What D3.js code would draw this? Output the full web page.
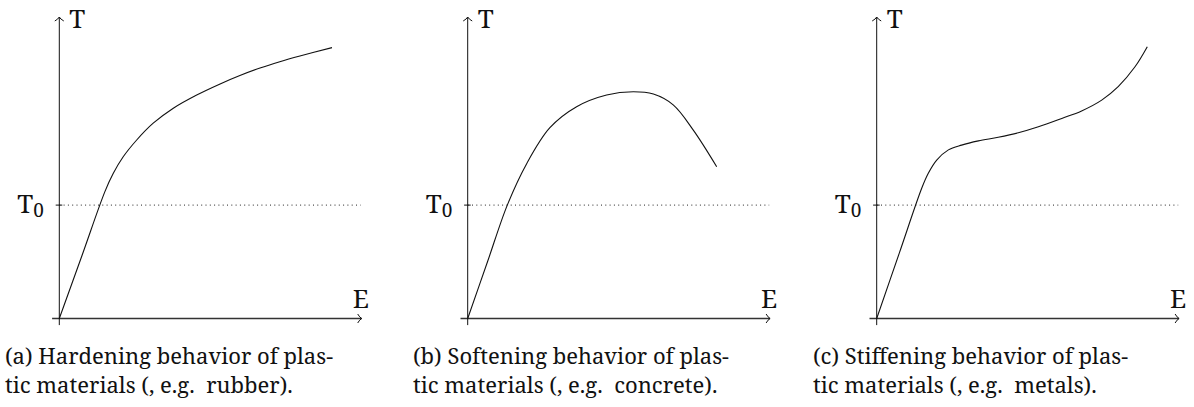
<!DOCTYPE html>
<html>
<head>
<meta charset="utf-8">
<script src="https://cdn.jsdelivr.net/npm/d3@7/dist/d3.min.js"></script>
<style>
  html, body { margin: 0; padding: 0; background: #fff; }
  svg { display: block; }
</style>
</head>
<body>
<svg id="chart" width="1194" height="407"></svg>
<script>
// Stress (T) against strain (E) for three kinds of plastic behaviour.
const panelNames = ["hardening", "softening", "stiffening"];

const hardeningE = [0, 0.76, 1.52, 1.80, 2.13, 2.58, 3.13, 3.80, 4.58, 5.36, 6.02, 6.69, 7.35, 8.02, 9.09];
const hardeningT = [0, 2.11, 4.23, 4.84, 5.39, 5.95, 6.51, 7.01, 7.45, 7.82, 8.10, 8.35, 8.56, 8.75, 9.03];

const softeningE = [0, 0.66, 1.32, 1.97, 2.74, 3.63, 4.63, 5.52, 6.19, 6.85, 7.52, 8.30];
const softeningT = [0, 1.89, 3.78, 5.17, 6.36, 7.06, 7.45, 7.56, 7.48, 7.12, 6.28, 5.06];

const stiffeningE = [0, 0.75, 1.50, 1.72, 2.00, 2.39, 2.83, 3.39, 4.05, 4.72, 5.39, 6.17, 6.83, 7.50, 8.05, 8.61, 9.02];
const stiffeningT = [0, 2.17, 4.34, 4.84, 5.28, 5.62, 5.78, 5.92, 6.04, 6.19, 6.39, 6.67, 6.92, 7.28, 7.73, 8.39, 9.06];

const yieldStress = 3.78;              // level of the dotted T0 line
const axisLabels = ["E", "T"];
const yieldLabel = "T";
const yieldSub = "0";

const captionLines = [
  ["(a) Hardening behavior of plas-", "tic materials (, e.g.\u00A0 rubber)."],
  ["(b) Softening behavior of plas-", "tic materials (, e.g.\u00A0 concrete)."],
  ["(c) Stiffening behavior of plas-", "tic materials (, e.g.\u00A0 metals)."]
];

const seriesE = [hardeningE, softeningE, stiffeningE];
const seriesT = [hardeningT, softeningT, stiffeningT];

const FONT = "Noto Serif, DejaVu Serif, Liberation Serif, serif";
const INK = "#111";

const svg = d3.select("#chart");
const originX = [59.3, 467.7, 876.7];
const originY = 318.5;
const unit = 30;                       // px per data unit
const captionX = [5, 413, 813];

// open TikZ-style chevron arrow tip
function arrowHead(g, x, y, dir) {
  const d = dir === "right"
    ? `M${x - 4},${y - 4.5} Q${x - 2},${y - 1} ${x},${y} Q${x - 2},${y + 1} ${x - 4},${y + 4.5}`
    : `M${x - 4.5},${y + 4} Q${x - 1},${y + 2} ${x},${y} Q${x + 1},${y + 2} ${x + 4.5},${y + 4}`;
  g.append("path").attr("d", d)
    .attr("fill", "none").attr("stroke", INK).attr("stroke-width", 1);
}

panelNames.forEach((name, i) => {
  const ox = originX[i];
  const x = d3.scaleLinear().domain([0, 10]).range([ox, ox + 10 * unit]);
  const y = d3.scaleLinear().domain([0, 10]).range([originY, originY - 10 * unit]);
  const g = svg.append("g").attr("class", "panel-" + name);

  // dotted yield level
  g.append("line")
    .attr("x1", x(0)).attr("x2", x(10.05))
    .attr("y1", y(yieldStress)).attr("y2", y(yieldStress))
    .attr("stroke", "#222").attr("stroke-width", 1)
    .attr("stroke-dasharray", "1 3.3");
  // tick at T0
  g.append("line")
    .attr("x1", x(-0.12)).attr("x2", x(0.1))
    .attr("y1", y(yieldStress)).attr("y2", y(yieldStress))
    .attr("stroke", INK).attr("stroke-width", 1);

  // axes
  g.append("line")
    .attr("x1", x(-0.24)).attr("x2", x(10.08))
    .attr("y1", y(0)).attr("y2", y(0))
    .attr("stroke", "#333").attr("stroke-width", 1.3);
  g.append("line")
    .attr("x1", x(0)).attr("x2", x(0))
    .attr("y1", y(-0.22)).attr("y2", y(10.05))
    .attr("stroke", INK).attr("stroke-width", 1);
  arrowHead(g, x(10.08), y(0), "right");
  arrowHead(g, x(0), y(10.05), "up");

  // axis labels
  g.append("text").attr("x", x(0) + 10).attr("y", 28)
    .attr("font-family", FONT).attr("font-size", 26).attr("fill", INK)
    .text(axisLabels[1]);
  g.append("text").attr("x", x(10.08) - 9).attr("y", 308)
    .attr("font-family", FONT).attr("font-size", 26).attr("fill", INK)
    .text(axisLabels[0]);
  const t0 = g.append("text").attr("x", x(0) - 42).attr("y", y(yieldStress) + 8)
    .attr("font-family", FONT).attr("font-size", 26).attr("fill", INK);
  t0.append("tspan").text(yieldLabel);
  t0.append("tspan").attr("font-size", 19).attr("dy", 4).text(yieldSub);

  // curve
  const pts = seriesE[i].map((e, k) => [e, seriesT[i][k]]);
  g.append("path")
    .datum(pts)
    .attr("d", d3.line().x(d => x(d[0])).y(d => y(d[1])).curve(d3.curveCatmullRom.alpha(0.5)))
    .attr("fill", "none").attr("stroke", INK).attr("stroke-width", 1.1);

  // caption
  captionLines[i].forEach((line, k) => {
    g.append("text").attr("x", captionX[i]).attr("y", 364 + k * 29)
      .attr("font-family", FONT).attr("font-size", 22).attr("fill", INK)
      .text(line);
  });
});
</script>
</body>
</html>
